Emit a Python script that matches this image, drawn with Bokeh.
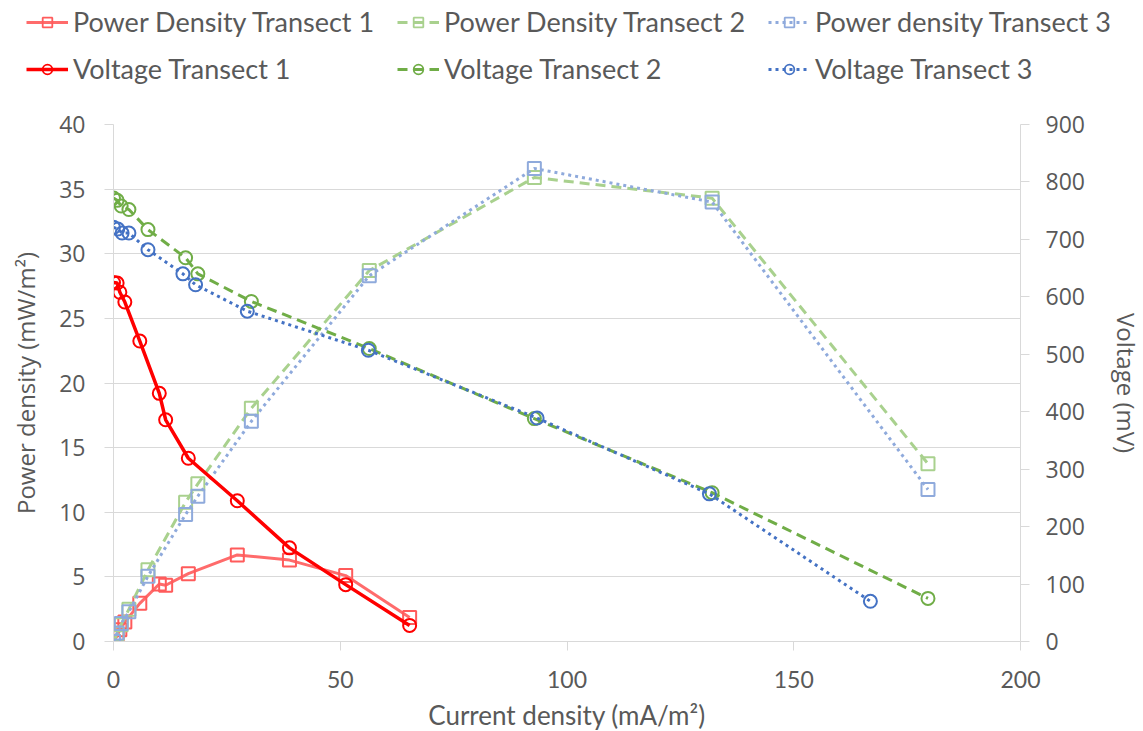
from bokeh.plotting import figure
from bokeh.models import Legend, LegendItem, LinearAxis, Range1d, FixedTicker
from bokeh.embed import file_html
from bokeh.resources import INLINE

# ---------------- data ----------------
current_t1 = [0, 0.8, 1.4, 2.5, 5.8, 10.1, 11.5, 16.5, 27.3, 38.8, 51.2, 65.3]
power_t1 = [0, 0.45, 0.9, 1.5, 2.95, 4.45, 4.35, 5.25, 6.7, 6.3, 5.1, 1.85]
voltage_t1 = [625, 624, 608, 591, 523, 432, 386, 319, 245, 163, 99, 28]

current_t2 = [0, 0.8, 1.7, 3.4, 7.6, 15.9, 18.6, 30.4, 56.4, 92.8, 132.0, 179.6]
power_t2 = [0, 0.6, 1.3, 2.5, 5.55, 10.78, 12.2, 18.05, 28.7, 35.9, 34.3, 13.75]
voltage_t2 = [772, 768, 758, 752, 717, 668, 640, 592, 510, 388, 259, 75]

current_p3 = [0, 0.8, 1.7, 3.4, 7.6, 15.9, 18.6, 30.4, 56.4, 92.8, 132.0, 179.6]
power_t3 = [0, 0.65, 1.4, 2.3, 5.05, 9.83, 11.24, 17.04, 28.3, 36.6, 34.0, 11.76]
current_v3 = [0, 0.95, 1.9, 3.4, 7.6, 15.3, 18.1, 29.5, 56.2, 93.4, 131.4, 166.9]
voltage_t3 = [721, 718, 711, 711, 682, 640, 621, 575, 507, 389, 257, 70]

x_ticks = [0, 50, 100, 150, 200]
power_ticks = [0, 5, 10, 15, 20, 25, 30, 35, 40]
voltage_ticks = [0, 100, 200, 300, 400, 500, 600, 700, 800, 900]

labels_row1 = ["Power Density Transect 1", "Power Density Transect 2", "Power density Transect 3"]
labels_row2 = ["Voltage Transect 1", "Voltage Transect 2", "Voltage Transect 3"]

# ---------------- styling ----------------
TEXT = "#595959"
GRID = "#D9D9D9"
Y_FONT = "Open Sans"
X_FONT = "Lato"

C1P, C1V = "#FF5B5B", "#FF0000"
C2P, C2V = "#A9D18E", "#70AD47"
C3P, C3V = "#8FAADC", "#4472C4"

styles_p = [dict(line_color=C1P, line_width=3, line_alpha=0.9),
            dict(line_color=C2P, line_width=3, line_dash="10 6"),
            dict(line_color=C3P, line_width=3, line_dash="3 4")]
styles_v = [dict(line_color=C1V, line_width=3.5),
            dict(line_color=C2V, line_width=3, line_dash="10 6"),
            dict(line_color=C3V, line_width=3, line_dash="3 4")]
mcol_p = [C1P, C2P, C3P]
mcol_v = [C1V, C2V, C3V]
series_p = [(current_t1, power_t1), (current_t2, power_t2), (current_p3, power_t3)]
series_v = [(current_t1, voltage_t1), (current_t2, voltage_t2), (current_v3, voltage_t3)]

# ---------------- main chart ----------------
p = figure(frame_width=907, frame_height=517,
           x_range=Range1d(0, 200), y_range=Range1d(0, 40),
           output_backend="svg", toolbar_location=None,
           min_border_left=113, min_border_right=123,
           min_border_top=24, min_border_bottom=90,
           background_fill_color="white", border_fill_color="white")
p.extra_y_ranges = {"v": Range1d(0, 900)}
p.outline_line_color = None
p.xgrid.visible = False
p.ygrid.grid_line_color = GRID
p.ygrid.grid_line_width = 1

ya = p.yaxis[0]
ya.ticker = FixedTicker(ticks=power_ticks)
ya.axis_label = "Power density (mW/m²)"
xa = p.xaxis[0]
xa.ticker = FixedTicker(ticks=x_ticks)
xa.axis_label = "Current density (mA/m²)"
ra = LinearAxis(y_range_name="v", ticker=FixedTicker(ticks=voltage_ticks),
                axis_label="Voltage (mV)")
p.add_layout(ra, "right")

for ax, font, lsize, tsize in [(ya, Y_FONT, "23px", "24px"),
                               (ra, Y_FONT, "23px", "24px"),
                               (xa, X_FONT, "23px", "26px")]:
    ax.axis_line_color = GRID
    ax.major_tick_line_color = GRID
    ax.major_tick_in = 0
    ax.major_tick_out = 9
    ax.minor_tick_line_color = None
    ax.major_label_text_font = font
    ax.major_label_text_font_size = lsize
    ax.major_label_text_color = TEXT
    ax.axis_label_text_font = font
    ax.axis_label_text_font_size = tsize
    ax.axis_label_text_color = TEXT
    ax.axis_label_text_font_style = "normal"

ya.major_label_standoff = 19
ya.axis_label_standoff = 14
ra.major_label_standoff = 16
ra.axis_label_standoff = 22
xa.major_label_standoff = 20
xa.axis_label_standoff = 8

for (cx, cy), st, mc in zip(series_p, styles_p, mcol_p):
    p.line(cx, cy, **st)
    p.scatter(cx, cy, marker="square", size=13, fill_color=None, line_color=mc, line_width=2)

for (cx, cy), st, mc in zip(series_v, styles_v, mcol_v):
    p.line(cx, cy, y_range_name="v", **st)
    p.scatter(cx, cy, y_range_name="v", marker="circle", size=13, fill_color=None,
              line_color=mc, line_width=2)

# ---------------- legend strip (separate root, above the chart) ----------------
# the series are drawn again here, outside this strip's visible ranges, only to feed the legend
leg = figure(width=1143, height=100, x_range=Range1d(0, 200), y_range=Range1d(-2000, -1000),
             output_backend="svg", toolbar_location=None, min_border=0,
             x_axis_location=None, y_axis_location=None,
             background_fill_color="white", border_fill_color="white")
leg.outline_line_color = None
leg.grid.visible = False


def legend_row(labels, series, styles, mcols, marker, vy):
    items = []
    for lab, (cx, cy), st, mc in zip(labels, series, styles, mcols):
        r1 = leg.line(cx, cy, **st)
        r2 = leg.scatter(cx, cy, marker=marker, size=10, fill_color=None,
                         line_color=mc, line_width=1.8)
        items.append(LegendItem(label=lab, renderers=[r1, r2]))
    return Legend(items=items, orientation="horizontal", location=(26, vy),
                  margin=0, padding=0, spacing=10, glyph_width=42, glyph_height=24,
                  label_height=24, label_width=314, label_standoff=5,
                  label_text_font=X_FONT, label_text_font_size="27px",
                  label_text_color=TEXT, border_line_color=None,
                  background_fill_alpha=0)


leg.add_layout(legend_row(labels_row1, series_p, styles_p, mcol_p, "square", 62), "center")
leg.add_layout(legend_row(labels_row2, series_v, styles_v, mcol_v, "circle", 15), "center")

open("out.html", "w").write(file_html([leg, p], INLINE))
